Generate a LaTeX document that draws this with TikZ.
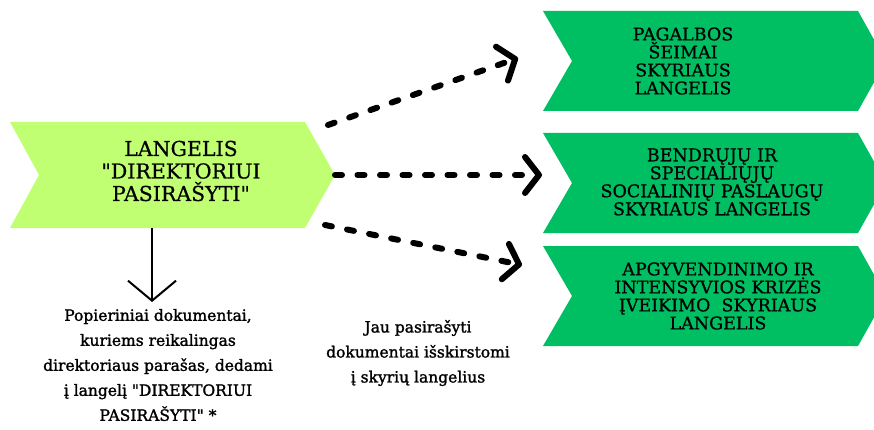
\documentclass[tikz,border=0pt]{standalone}
\usepackage{fontspec}
\setmainfont{DejaVu Serif}
\newfontfamily\boldish{DejaVu Serif}[FakeBold=1.5]
\newfontfamily\medish{DejaVu Serif}[FakeBold=0.6]
\usetikzlibrary{arrows.meta,positioning}
\definecolor{lightlime}{HTML}{C1FF72}
\definecolor{boxgreen}{HTML}{00BF63}

\begin{document}
\begin{tikzpicture}[
    x=1pt, y=-1pt,
    bigtxt/.style={align=center, font=\medish\fontsize{20.5}{22.5}\selectfont, inner sep=0pt},
    boxtxt/.style={align=center, font=\medish\fontsize{17.5}{18}\selectfont, inner sep=0pt},
    note/.style={align=center, font=\boldish\fontsize{15.5}{25}\selectfont, inner sep=0pt},
    dots/.style={line width=6pt, line cap=round, dash pattern=on 7pt off 15.5pt,
      -{Straight Barb[length=14pt,width=36pt,round]}},
    down/.style={line width=2pt, -{Straight Barb[length=20pt,width=48pt]}},
  ]
  \useasboundingbox (0,0) rectangle (874,430);

  % Chevrons
  \fill[lightlime] (10,122) -- (305,122) -- (335,175) -- (305,228)
    -- (10,228) -- (39,175) -- cycle;
  \foreach \t in {11,133,246}
    \fill[boxgreen] (543,\t) -- (858,\t) -- (886,\t+50) -- (858,\t+100)
      -- (543,\t+100) -- (572,\t+50) -- cycle;

  % Box texts
  \node[bigtxt] (main) at (181,171) {LANGELIS\\\textquotedbl DIREKTORIUI\\PASIRAŠYTI\textquotedbl};
  \node[boxtxt] (family) at (683,61) {PAGALBOS\\ŠEIMAI\\SKYRIAUS\\LANGELIS};
  \node[boxtxt] (social) at (712,182) {BENDRŲJŲ IR\\SPECIALIŲJŲ\\SOCIALINIŲ PASLAUGŲ\\SKYRIAUS LANGELIS};
  \node[boxtxt] (crisis) at (718,296) {APGYVENDINIMO IR\\INTENSYVIOS KRIZĖS\\ĮVEIKIMO~~SKYRIAUS\\LANGELIS};

  % Notes
  \node[note] (paper) at (158,365) {Popieriniai dokumentai,\\kuriems reikalingas\\direktoriaus parašas, dedami\\į langelį \textquotedbl DIREKTORIUI\\PASIRAŠYTI\textquotedbl{} *};
  \node[note] (split) at (418,353) {Jau pasirašyti\\dokumentai išskirstomi\\į skyrių langelius};

  % Arrow ends
  \coordinate (s1) at (328,125);
  \coordinate (e1) at (518,58);
  \coordinate (s2) at (335,175);
  \coordinate (e2) at (542,175);
  \coordinate (s3) at (325,225);
  \coordinate (e3) at (522,265);
  \coordinate (mainbot) at (152,228);
  \coordinate (paptop) at (152,302);

  % Arrows
  \draw[dots] (s1) -- (e1);
  \draw[dots] (s2) -- (e2);
  \draw[dots] (s3) -- (e3);
  \draw[down] (mainbot) -- (paptop);
\end{tikzpicture}
\end{document}
